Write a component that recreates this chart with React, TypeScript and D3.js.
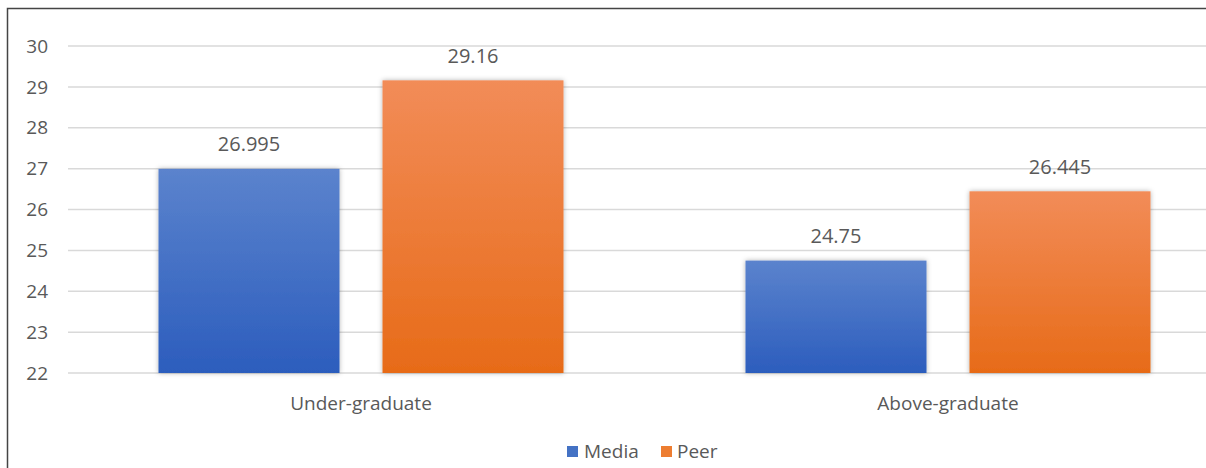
import React from "react";
import * as d3 from "d3";

const categories = ["Under-graduate", "Above-graduate"];
const seriesNames = ["Media", "Peer"];
const mediaValues = [26.995, 24.75];
const peerValues = [29.16, 26.445];
const valueLabels = [["26.995", "29.16"], ["24.75", "26.445"]];
const yTicks = [22, 23, 24, 25, 26, 27, 28, 29, 30];

const W = 1206;
const H = 468;
const FONT = "'Open Sans', 'Noto Sans', sans-serif";
const TXT = "#595959";

export default function App() {
  const y = d3.scaleLinear().domain([22, 30]).range([373, 46]);
  const x0 = d3.scaleBand<string>().domain(categories).range([67.5, 1241.5]).padding(0);
  const x1 = d3.scaleBand<string>().domain(seriesNames).range([91, 496]).paddingInner(0.192).paddingOuter(0);
  const values = [mediaValues, peerValues];
  const grads = ["gMedia", "gPeer"];

  return (
    <svg width={W} height={H} style={{ position: "absolute", left: 0, top: 0 }}>
      <defs>
        <linearGradient id="gMedia" x1="0" y1="0" x2="0" y2="1">
          <stop offset="0" stopColor="#5b83cd" />
          <stop offset="1" stopColor="#2c5dbd" />
        </linearGradient>
        <linearGradient id="gPeer" x1="0" y1="0" x2="0" y2="1">
          <stop offset="0" stopColor="#f28c58" />
          <stop offset="1" stopColor="#e76b18" />
        </linearGradient>
        <filter id="sh" x="-10%" y="-10%" width="120%" height="120%">
          <feDropShadow dx="0" dy="0" stdDeviation="2.5" floodColor="#000" floodOpacity="0.3" />
        </filter>
      </defs>
      <rect x={0} y={0} width={W} height={H} fill="#fff" />
      <rect x={7.5} y={8.5} width={1400} height={600} fill="none" stroke="#444" strokeWidth={1.5} />
      {yTicks.map((t) => (
        <g key={t}>
          <line x1={68} x2={W} y1={y(t)} y2={y(t)} stroke="#d9d9d9" strokeWidth={1.5} />
          <text x={48} y={y(t)} dy="0.35em" textAnchor="end" fontFamily={FONT} fontSize={19} fill={TXT}>
            {t}
          </text>
        </g>
      ))}
      {categories.map((c, ci) => (
        <g key={c} transform={`translate(${x0(c)},0)`}>
          {seriesNames.map((s, si) => {
            const v = values[si][ci];
            const bx = x1(s)!;
            const bw = x1.bandwidth();
            return (
              <g key={s}>
                <rect x={bx} y={y(v)} width={bw} height={y(22) - y(v)} fill={`url(#${grads[si]})`} filter="url(#sh)" />
                <text x={bx + bw / 2} y={y(v) - 17.5} textAnchor="middle" fontFamily={FONT} fontSize={20} fill={TXT}>
                  {valueLabels[ci][si]}
                </text>
              </g>
            );
          })}
          <text x={x0.bandwidth() / 2} y={410} textAnchor="middle" fontFamily={FONT} fontSize={19} fill={TXT}>
            {c}
          </text>
        </g>
      ))}
      <g>
        <rect x={567} y={446} width={11} height={11} fill="#4472c4" />
        <text x={584} y={458} fontFamily={FONT} fontSize={19} fill={TXT}>
          {seriesNames[0]}
        </text>
        <rect x={661} y={446} width={11} height={11} fill="#ed7d31" />
        <text x={677} y={458} fontFamily={FONT} fontSize={19} fill={TXT}>
          {seriesNames[1]}
        </text>
      </g>
    </svg>
  );
}
